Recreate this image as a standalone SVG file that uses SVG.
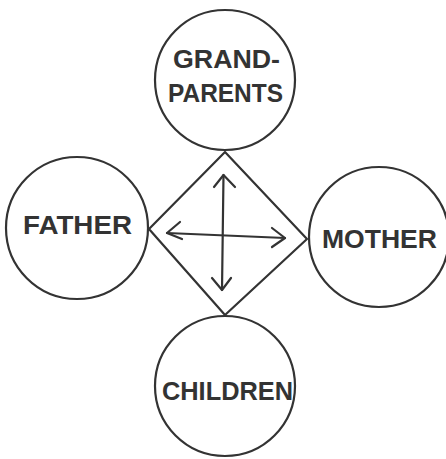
<svg xmlns="http://www.w3.org/2000/svg" width="446" height="459" viewBox="0 0 446 459">
<style>
.c{fill:none;stroke:#333;stroke-width:2.2}
.l{fill:none;stroke:#333;stroke-width:2.2;stroke-linecap:round;stroke-linejoin:round}
.t{font-family:"Liberation Sans","DejaVu Sans",sans-serif;font-size:26px;fill:#333;font-weight:bold}
</style>
<rect width="446" height="459" fill="#fff"/>
<g id="grandparents">
<circle class="c" cx="225" cy="80" r="70"/>
<text class="t" x="173" y="68" textLength="107" lengthAdjust="spacingAndGlyphs" font-size="24">GRAND-</text>
<text class="t" x="168" y="102" textLength="115" lengthAdjust="spacingAndGlyphs">PARENTS</text>
</g>
<g id="father">
<circle class="c" cx="77" cy="228" r="71"/>
<text class="t" x="23" y="234" textLength="109" lengthAdjust="spacingAndGlyphs">FATHER</text>
</g>
<g id="mother">
<circle class="c" cx="379" cy="237" r="70"/>
<text class="t" x="322" y="248" textLength="115" lengthAdjust="spacingAndGlyphs">MOTHER</text>
</g>
<g id="children">
<circle class="c" cx="225" cy="386" r="70"/>
<text class="t" x="162" y="400" textLength="131" lengthAdjust="spacingAndGlyphs">CHILDREN</text>
</g>
<g id="connectors">
<polygon class="l" points="225,152 307,239 225,315 149,229"/>
<line class="l" x1="223.5" y1="175" x2="222" y2="290"/>
<polyline class="l" points="214,187 223.5,175 235,187"/>
<polyline class="l" points="212,278 222,290 231,278"/>
<line class="l" x1="167" y1="233" x2="285" y2="238"/>
<polyline class="l" points="180,222 167,233 182,239"/>
<polyline class="l" points="272,228 285,238 272,247"/>
</g>
</svg>
